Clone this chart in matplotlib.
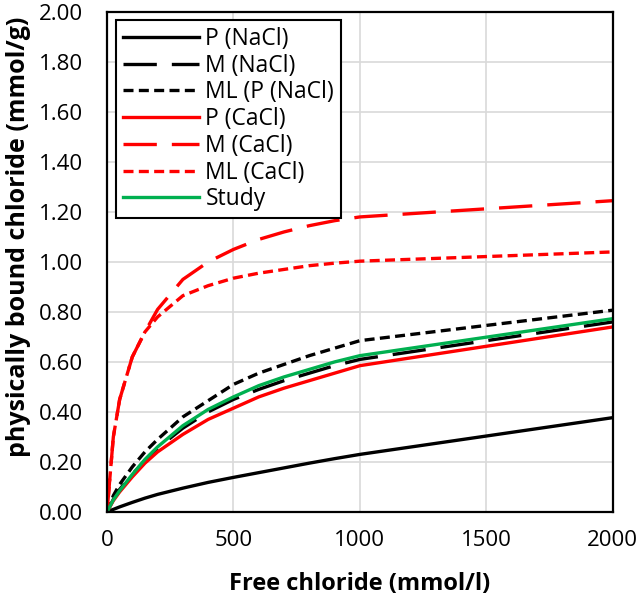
import matplotlib
matplotlib.use('Agg')
import matplotlib.pyplot as plt

# free chloride (mmol/l)
x = [0, 25, 50, 100, 150, 200, 300, 400, 500, 600, 700, 800, 900, 1000, 2000]

# physically bound chloride (mmol/g)
p_nacl = [0, 0.01, 0.02, 0.038, 0.055, 0.07, 0.095, 0.118, 0.138, 0.157, 0.176, 0.195, 0.213, 0.23, 0.377]
m_nacl = [0, 0.05, 0.09, 0.15, 0.205, 0.255, 0.335, 0.40, 0.45, 0.49, 0.525, 0.555, 0.585, 0.61, 0.76]
ml_nacl = [0, 0.065, 0.11, 0.18, 0.24, 0.29, 0.38, 0.445, 0.51, 0.555, 0.59, 0.625, 0.655, 0.685, 0.807]
p_cacl = [0, 0.045, 0.08, 0.14, 0.195, 0.24, 0.31, 0.37, 0.415, 0.46, 0.495, 0.525, 0.555, 0.585, 0.74]
m_cacl = [0, 0.30, 0.45, 0.62, 0.72, 0.81, 0.93, 1.00, 1.05, 1.09, 1.12, 1.145, 1.165, 1.18, 1.245]
ml_cacl = [0, 0.30, 0.45, 0.62, 0.72, 0.78, 0.865, 0.905, 0.935, 0.955, 0.97, 0.985, 0.995, 1.003, 1.04]
study = [0, 0.048, 0.085, 0.15, 0.21, 0.26, 0.345, 0.41, 0.46, 0.505, 0.54, 0.57, 0.60, 0.625, 0.773]

plt.rcParams['font.family'] = ['Open Sans', 'DejaVu Sans']

fig = plt.figure(figsize=(6.37, 5.98), dpi=100)
ax = fig.add_axes([0.168, 0.144, 0.794, 0.836])

lw = 2.4
long_dash = (0, (10, 4.5))
short_dash = (0, (3, 1.6))

ax.plot(x, p_nacl, color='black', lw=lw, label='P (NaCl)')
ax.plot(x, m_nacl, color='black', lw=lw, linestyle=long_dash, label='M (NaCl)')
ax.plot(x, ml_nacl, color='black', lw=lw, linestyle=short_dash, label='ML (P (NaCl)')
ax.plot(x, p_cacl, color='#ff0000', lw=lw, label='P (CaCl)')
ax.plot(x, m_cacl, color='#ff0000', lw=lw, linestyle=long_dash, label='M (CaCl)')
ax.plot(x, ml_cacl, color='#ff0000', lw=lw, linestyle=short_dash, label='ML (CaCl)')
ax.plot(x, study, color='#00b050', lw=lw, label='Study')

ax.set_xlim(0, 2000)
ax.set_ylim(0, 2.0)
ax.set_xticks([0, 500, 1000, 1500, 2000])
ax.set_yticks([i * 0.2 for i in range(11)])
ax.set_yticklabels(['%.2f' % (i * 0.2) for i in range(11)])
ax.tick_params(labelsize=16, length=0)
ax.tick_params(axis='y', pad=17)
ax.tick_params(axis='x', pad=13)

ax.grid(True, color='#d9d9d9', lw=1.2)
ax.set_axisbelow(True)
for s in ax.spines.values():
    s.set_color('black')
    s.set_linewidth(1.6)

ax.set_xlabel('Free chloride (mmol/l)', fontsize=17, fontweight='bold')
ax.set_ylabel('physically bound chloride (mmol/g)', fontsize=18, fontweight='bold')
ax.xaxis.set_label_coords(0.5, -0.12)
ax.yaxis.set_label_coords(-0.15, 0.55)

leg = ax.legend(loc='upper left', fontsize=16.5, handlelength=3.3, handletextpad=0.3,
                labelspacing=0.12, borderpad=0.3, borderaxespad=0, fancybox=False,
                framealpha=1, edgecolor='black', bbox_to_anchor=(0.018, 0.984))
leg.get_frame().set_linewidth(1.5)

fig.savefig('out.png', dpi=100)
